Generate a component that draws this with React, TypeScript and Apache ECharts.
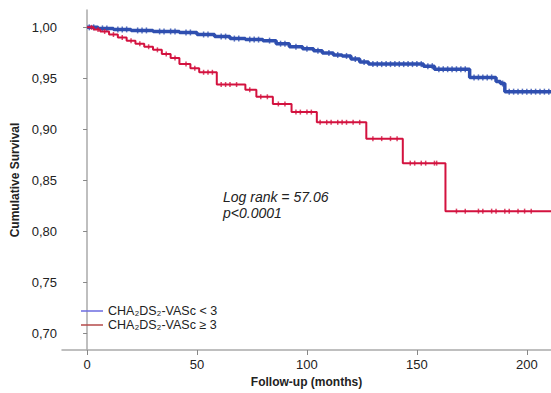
import React, { useEffect, useRef } from "react";
import * as echarts from "echarts";

// Kaplan-Meier step data: [month, cumulative survival]
const lowRiskSteps: [number, number][] = [
  [0, 1.0], [5, 0.999], [12, 0.998], [20, 0.997], [30, 0.996], [42, 0.995],
  [50, 0.993], [58, 0.991], [65, 0.989], [72, 0.988], [80, 0.987], [86, 0.984],
  [92, 0.981], [98, 0.979], [103, 0.977], [107, 0.975], [112, 0.973], [116, 0.972],
  [120, 0.969], [124, 0.966], [128, 0.964], [153, 0.962], [158, 0.959], [174, 0.951],
  [186, 0.947], [188, 0.945], [190, 0.937], [211, 0.937],
];

const highRiskSteps: [number, number][] = [
  [0, 1.0], [3, 0.998], [6, 0.996], [10, 0.993], [14, 0.99], [18, 0.987],
  [22, 0.984], [26, 0.981], [30, 0.978], [34, 0.974], [38, 0.97], [42, 0.964],
  [47, 0.96], [51, 0.956], [59, 0.944], [72, 0.939], [77, 0.932], [84.5, 0.925],
  [93, 0.917], [104.5, 0.907], [127, 0.891], [143.6, 0.867], [163, 0.82], [211, 0.82],
];

// censored observation times (months)
const lowRiskCensored: number[] = [
  1, 3, 7, 9, 14, 16, 18, 23, 25, 27, 33, 35, 38, 40, 45, 47, 53, 55, 61, 63, 67, 69,
  74, 76, 78, 83, 88, 90, 95, 100, 105, 110, 114, 118, 122, 126, 130, 132, 134, 136,
  138, 140, 142, 144, 146, 148, 150, 152, 155, 157, 160, 162, 164, 166, 168, 170, 172,
  176, 178, 180, 182, 184, 189, 192, 194, 196, 198, 200, 202, 204, 206, 208, 210,
];
const highRiskCensored: number[] = [
  2, 5, 8, 12, 16, 20, 24, 28, 32, 36, 40, 45, 49, 53, 55, 57,
  61, 63, 65, 68, 74, 79, 82, 87, 90, 95, 97, 100, 102,
  106, 109, 111, 114, 116, 118, 121, 124, 130, 134, 138, 141,
  147, 149, 152, 154, 158, 159, 168, 172, 178, 180, 184, 186, 190, 192, 196, 199, 202,
];

const xTicks = [0, 50, 100, 150, 200];
const yTicks = [0.7, 0.75, 0.8, 0.85, 0.9, 0.95, 1.0];

const lowName = "CHA\u2082DS\u2082-VASc < 3";
const highName = "CHA\u2082DS\u2082-VASc \u2265 3";
const logRankText = "Log rank = 57.06";
const pValueText = "p<0.0001";

const BLUE = "#2f4fb0";
const RED = "#d3123f";
const FONT = "'Liberation Sans', Arial, Helvetica, sans-serif";

function survivalAt(steps: [number, number][], t: number): number {
  let v = steps[0][1];
  for (const [m, s] of steps) {
    if (m <= t) v = s;
  }
  return v;
}

export default function App() {
  const ref = useRef<HTMLDivElement>(null);
  useEffect(() => {
    if (!ref.current) return;
    const chart = echarts.init(ref.current, undefined, { renderer: "svg" });
    chart.setOption({
      animation: false,
      backgroundColor: "#ffffff",
      grid: { left: 62, top: 10, right: 0, bottom: 43, containLabel: false },
      xAxis: {
        type: "value",
        min: -11.4,
        max: 211,
        name: "Follow-up (months)",
        nameLocation: "middle",
        nameGap: 26,
        nameTextStyle: { fontFamily: FONT, fontWeight: "bold", fontSize: 12, color: "#222" },
        axisLine: { show: true, lineStyle: { color: "#aaaaaa", width: 1.5 } },
        axisTick: { show: true, length: 5, customValues: xTicks, lineStyle: { color: "#888" } },
        axisLabel: {
          customValues: xTicks,
          margin: 8,
          fontFamily: FONT,
          fontSize: 13,
          color: "#222",
        },
        splitLine: { show: false },
      },
      yAxis: {
        type: "value",
        min: 0.684,
        max: 1.017,
        name: "Cumulative Survival",
        nameLocation: "middle",
        nameGap: 33,
        nameTextStyle: { fontFamily: FONT, fontWeight: "bold", fontSize: 12, color: "#222" },
        axisLine: { show: true, lineStyle: { color: "#aaaaaa", width: 1.5 } },
        axisTick: { show: true, length: 4, customValues: yTicks, lineStyle: { color: "#888" } },
        axisLabel: {
          customValues: yTicks,
          margin: 5,
          fontFamily: FONT,
          fontSize: 13,
          color: "#222",
          formatter: (v: number) => v.toFixed(2).replace(".", ","),
        },
        splitLine: { show: false },
      },
      legend: {
        orient: "vertical",
        left: 81,
        top: 304,
        padding: 0,
        itemGap: 0,
        icon: "rect",
        itemWidth: 22,
        itemHeight: 1.5,
        textStyle: { fontFamily: FONT, fontSize: 12.5, color: "#222", lineHeight: 14 },
        data: [
          { name: lowName, itemStyle: { color: "#6b6be0" } },
          { name: highName, itemStyle: { color: "#b44a4a" } },
        ],
      },
      graphic: [
        {
          type: "text",
          x: 223,
          y: 189,
          style: {
            text: logRankText + "\n" + pValueText,
            font: `italic 14px ${FONT}`,
            fill: "#222",
            lineHeight: 16,
          },
        },
      ],
      series: [
        {
          name: lowName,
          type: "line",
          step: "end",
          showSymbol: false,
          data: lowRiskSteps,
          lineStyle: { color: BLUE, width: 3.5 },
          itemStyle: { color: BLUE },
          z: 3,
        },
        {
          name: highName,
          type: "line",
          step: "end",
          showSymbol: false,
          data: highRiskSteps,
          lineStyle: { color: RED, width: 2 },
          itemStyle: { color: RED },
          z: 4,
        },
        {
          name: lowName + " censored",
          type: "scatter",
          symbol: "rect",
          symbolSize: [1.5, 6],
          data: lowRiskCensored.map((t) => [t, survivalAt(lowRiskSteps, t)]),
          itemStyle: { color: BLUE },
          z: 3,
        },
        {
          name: highName + " censored",
          type: "scatter",
          symbol: "rect",
          symbolSize: [1.5, 5],
          data: highRiskCensored.map((t) => [t, survivalAt(highRiskSteps, t)]),
          itemStyle: { color: RED },
          z: 4,
        },
      ],
    });
    return () => chart.dispose();
  }, []);
  return <div ref={ref} style={{ width: 551, height: 393, position: "absolute", left: 0, top: 0 }} />;
}
